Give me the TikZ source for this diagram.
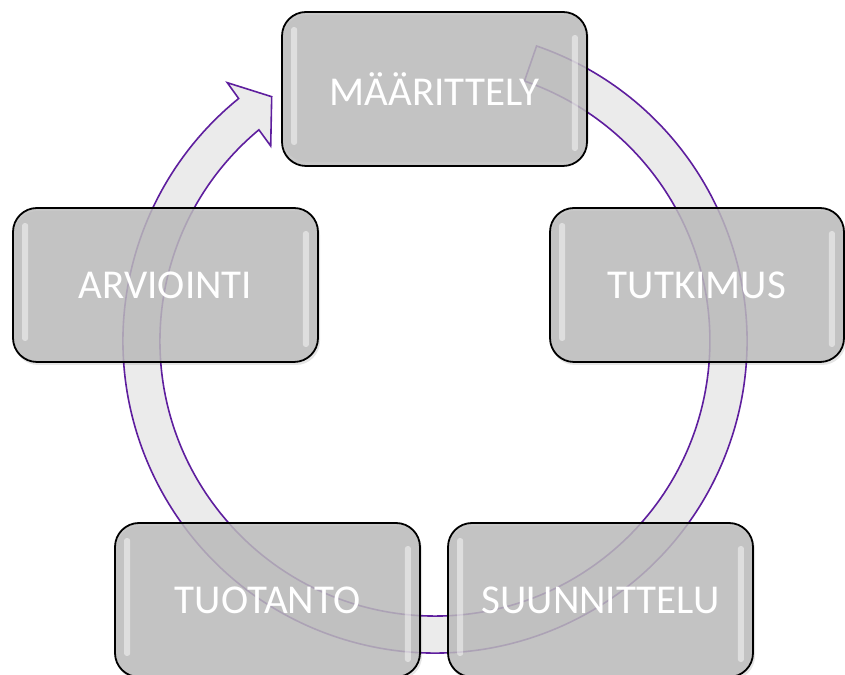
\documentclass[tikz,border=0pt]{standalone}
\usepackage{fontspec}
\setmainfont{Carlito}
\usetikzlibrary{calc}
\definecolor{arrowfill}{HTML}{EBEBEB}
\definecolor{arrowline}{HTML}{5E1E9E}
\definecolor{boxfill}{HTML}{BDBDBD}
\begin{document}
\begin{tikzpicture}[x=1pt,y=1pt,
  stagebox/.style={draw=black, line width=1.8pt, rounded corners=24pt, fill=boxfill,
    fill opacity=0.84, text opacity=1, minimum width=305pt, minimum height=154pt,
    text=white, font=\fontsize{41}{41}\selectfont, inner sep=0pt},
  cyclearrow/.style={fill=arrowfill, draw=arrowline, line width=1.6pt, line join=miter},
  gloss/.style={fill=white, fill opacity=0.45, draw=none, rounded corners=2.5pt},
  boxshadow/.style={fill=black, fill opacity=0.10, draw=none, rounded corners=24pt}
]
\useasboundingbox (0,0) rectangle (845,674);
\coordinate (c) at (435,333);
\draw[cyclearrow] ($(c)+(71:312)$) arc[start angle=71, end angle=-231, radius=312]
  -- (227.3,591.3) -- (271.7,577.3) -- (270.7,528) -- (258.9,544.2)
  arc[start angle=-230.2, end angle=71, radius=275] -- cycle;
% shadows
\fill[boxshadow] (283,512) rectangle (589,659);
\fill[boxshadow] (14,309) rectangle (320,463);
\fill[boxshadow] (551,309) rectangle (846,463);
\fill[boxshadow] (116,-6) rectangle (422,148);
\fill[boxshadow] (449,-6) rectangle (755,148);
% boxes
\node[stagebox] (maar) at (434.5,585) {MÄÄRITTELY};
\node[stagebox] (arvi) at (165.5,389) {ARVIOINTI};
\node[stagebox, minimum width=294pt] (tutk) at (697,389) {TUTKIMUS};
\node[stagebox] (tuot) at (267.5,74) {TUOTANTO};
\node[stagebox] (suun) at (600.5,74) {SUUNNITTELU};
% gloss highlights
\foreach \b in {maar,arvi,tutk,tuot,suun}{
  \fill[gloss] ([xshift=10pt,yshift=-16pt]\b.north west) rectangle ([xshift=16pt,yshift=22pt]\b.south west);
  \fill[gloss] ([xshift=-16pt,yshift=-24pt]\b.north east) rectangle ([xshift=-10pt,yshift=16pt]\b.south east);
}
\end{tikzpicture}
\end{document}
